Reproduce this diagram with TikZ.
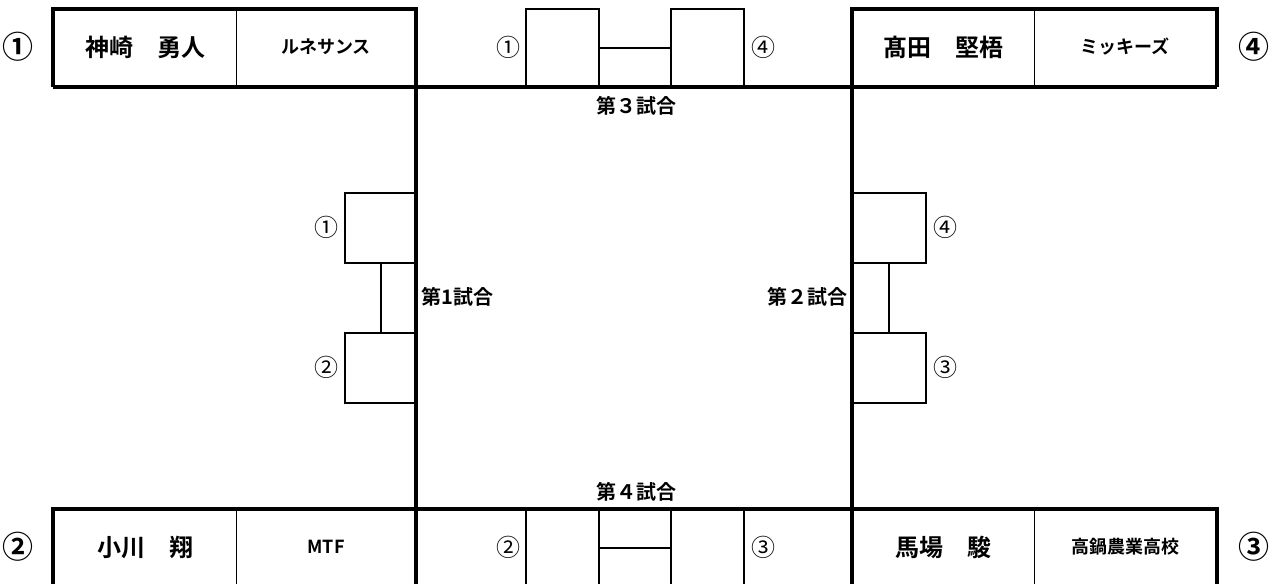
\documentclass[tikz,border=0pt]{standalone}
\usepackage{fontspec}
\setmainfont{Noto Sans CJK JP}[BoldFont={Noto Sans CJK JP Bold}]
\begin{document}
\begin{tikzpicture}[x=1pt,y=-1pt,
  thickline/.style={line width=4pt},
  thinline/.style={line width=2pt},
  dividerline/.style={line width=1pt},
  playername/.style={font=\bfseries\fontsize{24}{24}\selectfont,inner sep=0pt},
  schoolname/.style={font=\bfseries\fontsize{18}{18}\selectfont,inner sep=0pt},
  matchlabel/.style={font=\bfseries\fontsize{20}{20}\selectfont,inner sep=0pt},
  outernum/.style={font=\bfseries\fontsize{31}{31}\selectfont,inner sep=0pt},
  innernum/.style={font=\fontsize{24}{24}\selectfont,inner sep=0pt}]
\useasboundingbox (0,0) rectangle (1276,584);
% thick frames
\draw[thickline] (53,87) -- (53,9) -- (416,9) -- (416,584);
\draw[thickline] (1217,87) -- (1217,9) -- (852,9) -- (852,584);
\draw[thickline] (53,87) -- (1217,87);
\draw[thickline] (53,584) -- (53,509) -- (1217,509) -- (1217,584);
% dividers
\draw[dividerline] (236,9) -- (236,87);
\draw[dividerline] (1034,9) -- (1034,87);
\draw[dividerline] (236,509) -- (236,584);
\draw[dividerline] (1034,509) -- (1034,584);
% top bracket
\draw[thinline] (526,87) -- (526,9) -- (599,9) -- (599,87);
\draw[thinline] (671,87) -- (671,9) -- (744,9) -- (744,87);
\draw[thinline] (599,48) -- (671,48);
% bottom bracket
\draw[thinline] (526,509) -- (526,584);
\draw[thinline] (599,509) -- (599,584);
\draw[thinline] (671,509) -- (671,584);
\draw[thinline] (744,509) -- (744,584);
\draw[thinline] (599,548) -- (671,548);
% left bracket
\draw[thinline] (416,193) -- (345,193) -- (345,263) -- (416,263);
\draw[thinline] (416,333) -- (345,333) -- (345,403) -- (416,403);
\draw[thinline] (381,263) -- (381,333);
% right bracket
\draw[thinline] (852,193) -- (926,193) -- (926,263) -- (852,263);
\draw[thinline] (852,333) -- (926,333) -- (926,403) -- (852,403);
\draw[thinline] (889,263) -- (889,333);
% names and schools
\node[playername] (n1) at (145,47) {神崎　勇人};
\node[schoolname] (s1) at (326,47) {ルネサンス};
\node[playername] (n4) at (943,47) {髙田　堅梧};
\node[schoolname] (s4) at (1125,47) {ミッキーズ};
\node[playername] (n2) at (145,547) {小川　翔};
\node[schoolname] (s2) at (326,547) {MTF};
\node[playername] (n3) at (943,547) {馬場　駿};
\node[schoolname] (s3) at (1125,547) {高鍋農業高校};
% outer numbers
\node[outernum] (o1) at (18,47) {①};
\node[outernum] (o2) at (18,547) {②};
\node[outernum] (o4) at (1254,47) {④};
\node[outernum] (o3) at (1254,547) {③};
% inner numbers
\node[innernum] (t1) at (508,47) {①};
\node[innernum] (t4) at (763,47) {④};
\node[innernum] (b2) at (508,547) {②};
\node[innernum] (b3) at (763,547) {③};
\node[innernum] (l1) at (326,227) {①};
\node[innernum] (l2) at (326,367) {②};
\node[innernum] (r4) at (945,227) {④};
\node[innernum] (r3) at (945,367) {③};
% match labels
\node[matchlabel] (m3) at (636,106) {第３試合};
\node[matchlabel] (m4) at (636,492) {第４試合};
\node[matchlabel,anchor=west] (m1) at (421,297) {第1試合};
\node[matchlabel,anchor=east] (m2) at (848,297) {第２試合};
\end{tikzpicture}
\end{document}
